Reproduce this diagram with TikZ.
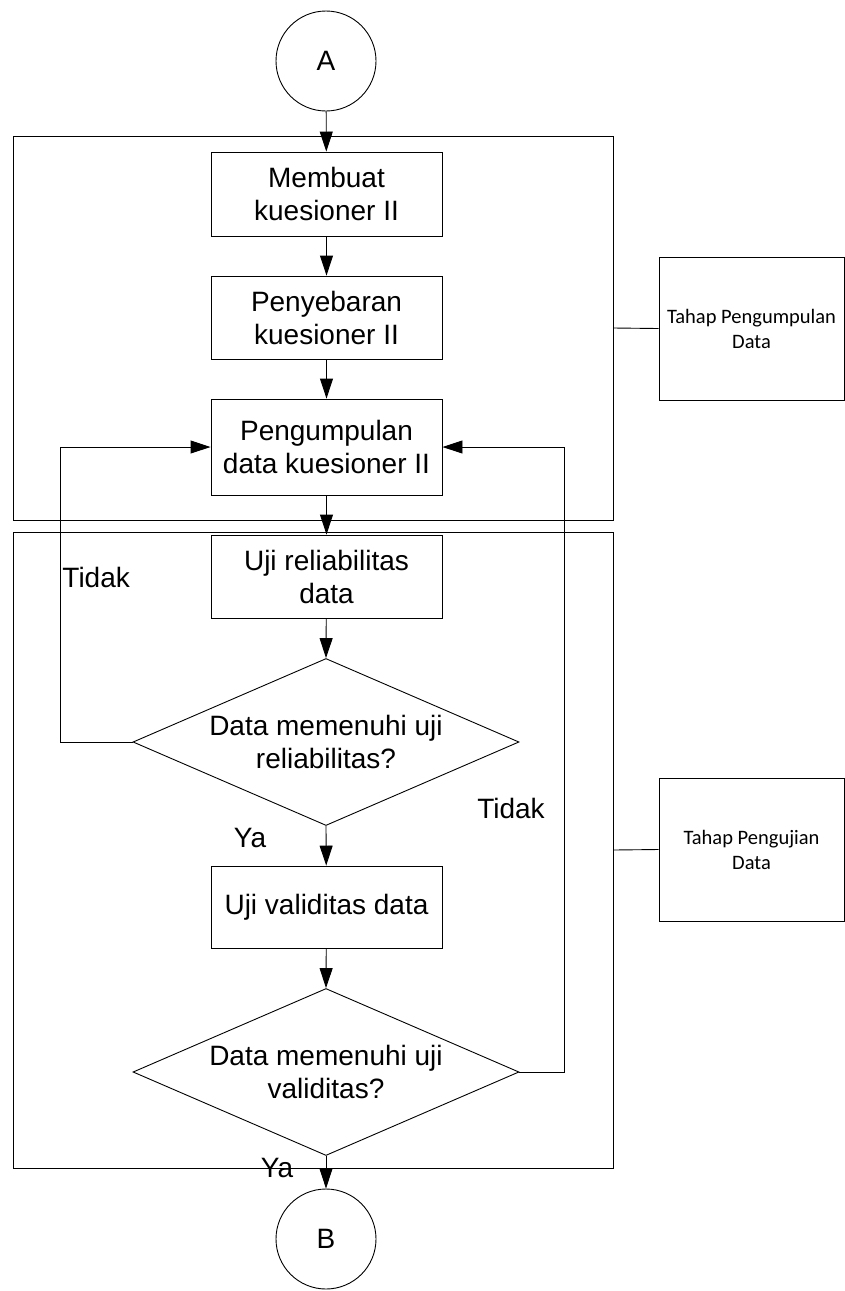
\documentclass[tikz,border=0pt]{standalone}
\usepackage{fontspec}
\setmainfont{Liberation Sans}
\newfontfamily\notefont{Carlito}
\usetikzlibrary{shapes.geometric,arrows.meta}

\begin{document}
\begin{tikzpicture}[x=1pt,y=-1pt,line width=0.9pt,
  mainfont/.style={font=\fontsize{28}{33}\selectfont},
  proc/.style={draw,rectangle,minimum width=231pt,inner sep=0pt,align=center,mainfont},
  term/.style={draw,circle,minimum size=100pt,inner sep=0pt,mainfont},
  decision/.style={draw,diamond,minimum width=386pt,minimum height=167pt,inner sep=0pt},
  qtext/.style={align=center,mainfont},
  group/.style={draw,rectangle,minimum width=600pt,inner sep=0pt},
  note/.style={draw,rectangle,minimum width=185pt,minimum height=143pt,inner sep=0pt,align=center,font=\notefont\fontsize{20.5}{25}\selectfont},
  lbl/.style={inner sep=0pt,mainfont},
  flow/.style={-{Triangle[length=20pt,width=13pt]}},
]
\useasboundingbox (0,0) rectangle (845,1291);

% phase frames
\node[group,minimum height=384pt] (g1) at (313,328) {};
\node[group,minimum height=636pt] (g2) at (313,850) {};

% phase notes
\node[note] (s1) at (751.5,328.5) {Tahap Pengumpulan\\Data};
\node[note] (s2) at (751.5,849.5) {Tahap Pengujian\\Data};
\draw (g1.east) -- (s1.west);
\draw (g2.east) -- (s2.west);

% flow steps
\node[term] (A) at (326,61) {A};
\node[proc,minimum height=84pt] (m1) at (326.5,194) {Membuat\\kuesioner II};
\node[proc,minimum height=83pt] (m2) at (326.5,317.5) {Penyebaran\\kuesioner II};
\node[proc,minimum height=96pt] (m3) at (326.5,447) {Pengumpulan\\data kuesioner II};
\node[proc,minimum height=83pt] (m4) at (326.5,576.5) {Uji reliabilitas\\data};
\node[decision] (d1) at (326,742) {};
\node[qtext] (q1) at (326,742) {Data memenuhi uji\\reliabilitas?};
\node[proc,minimum height=82pt] (m5) at (326.5,907) {Uji validitas data};
\node[decision] (d2) at (326,1072) {};
\node[qtext] (q2) at (326,1072) {Data memenuhi uji\\validitas?};
\node[term] (B) at (326,1239) {B};

% main flow
\draw[flow] (A) -- (m1);
\draw[flow] (m1) -- (m2);
\draw[flow] (m2) -- (m3);
\draw[flow] (m3) -- (m4);
\draw[flow] (m4) -- (d1.north);
\draw[flow] (d1.south) -- (m5);
\draw[flow] (m5) -- (d2.north);
\draw[flow] (d2.south) -- (B);

% loops back to data collection
\coordinate (lback) at (60,742);
\coordinate (rback) at (564,1072);
\draw[flow] (d1.west) -- (lback) |- (m3.west);
\draw[flow] (d2.east) -- (rback) |- (m3.east);

% branch labels
\node[lbl,anchor=west] (t1) at (62,577) {Tidak};
\node[lbl] (t2) at (511,808) {Tidak};
\node[lbl] (y1) at (250,838) {Ya};
\node[lbl] (y2) at (277,1168) {Ya};
\end{tikzpicture}
\end{document}
